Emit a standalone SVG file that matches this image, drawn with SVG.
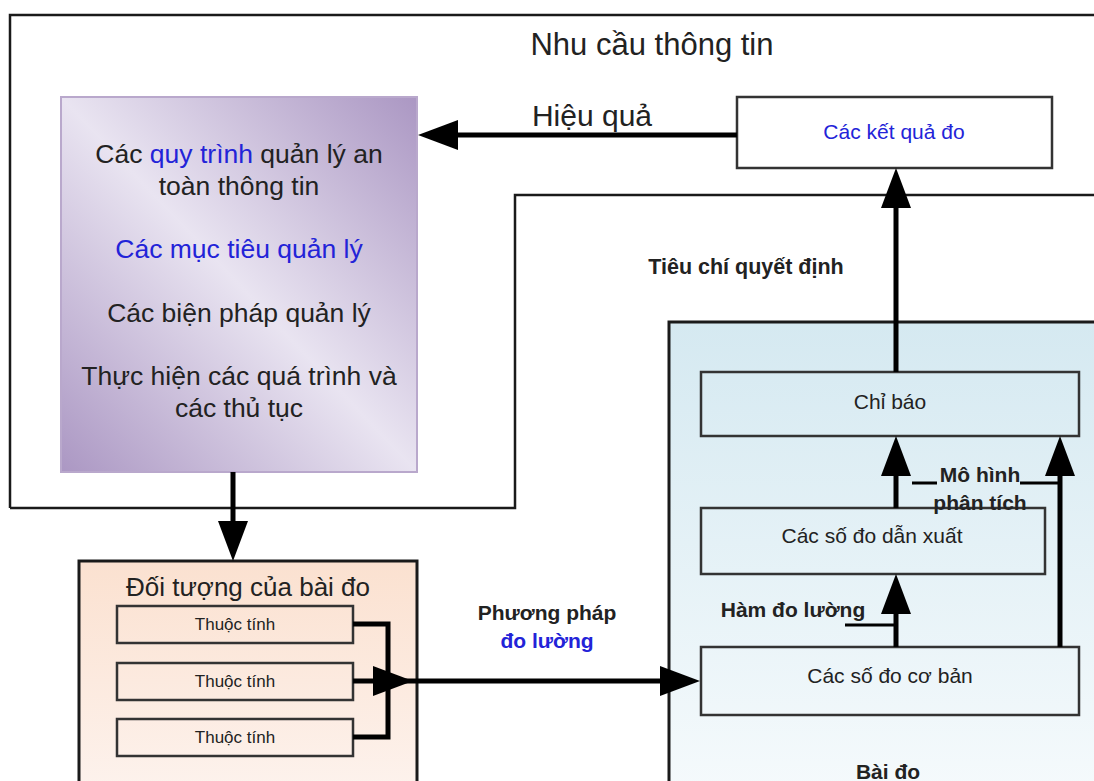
<svg xmlns="http://www.w3.org/2000/svg" width="1094" height="781" viewBox="0 0 1094 781">
<defs>
<linearGradient id="gPurple" x1="1" y1="0" x2="0" y2="1">
<stop offset="0" stop-color="#ab97c3"/>
<stop offset="0.5" stop-color="#e9e4f1"/>
<stop offset="1" stop-color="#ab97c3"/>
</linearGradient>
<linearGradient id="gBlue" x1="0" y1="0" x2="0" y2="1">
<stop offset="0" stop-color="#d5e9f1"/>
<stop offset="1" stop-color="#f5fafc"/>
</linearGradient>
<linearGradient id="gPeach" x1="0" y1="0" x2="0" y2="1">
<stop offset="0" stop-color="#fbe1d0"/>
<stop offset="1" stop-color="#fdf3ee"/>
</linearGradient>
<marker id="ah" viewBox="0 0 40 30" refX="0" refY="15" markerWidth="40" markerHeight="30" markerUnits="userSpaceOnUse" orient="auto">
<path d="M0,0 L40,15 L0,30 z" fill="#000"/>
</marker>
<style>
.t{font-family:"Liberation Sans",Arial,sans-serif;fill:#222;text-anchor:middle}
.b{font-weight:bold}
.blue{fill:#2323d8}
.box{fill:none;stroke:#333;stroke-width:2.5}
.frame{fill:none;stroke:#1a1a1a;stroke-width:2.5}
.con{fill:none;stroke:#000;stroke-width:5}
.lead{fill:none;stroke:#000;stroke-width:3}
</style>
</defs>
<rect width="1094" height="781" fill="#fff"/>

<g id="frame">
<path class="frame" d="M10,508 V15 H1100"/>
<path class="frame" d="M10,508 H515 V195 H1100"/>
<text class="t" x="652" y="55" font-size="31">Nhu cầu thông tin</text>
</g>

<g id="purple">
<rect x="61" y="97" width="356" height="375" fill="url(#gPurple)" stroke="#b9a8cc" stroke-width="2"/>
<text class="t" x="239" y="163" font-size="26.5">Các <tspan class="blue">quy trình</tspan> quản lý an</text>
<text class="t" x="239" y="195" font-size="26.5">toàn thông tin</text>
<text class="t blue" x="239" y="258" font-size="26.5">Các mục tiêu quản lý</text>
<text class="t" x="239" y="322" font-size="26.5">Các biện pháp quản lý</text>
<text class="t" x="239" y="385" font-size="26.5">Thực hiện các quá trình và</text>
<text class="t" x="239" y="417" font-size="26.5">các thủ tục</text>
</g>

<g id="ketqua">
<rect class="box" x="737" y="97" width="315" height="71" fill="#fff"/>
<text class="t blue" x="894" y="139" font-size="21">Các kết quả đo</text>
</g>

<g id="baido">
<rect x="669" y="322" width="440" height="470" fill="url(#gBlue)" stroke="#1a1a1a" stroke-width="3"/>
<text class="t b" x="888" y="779" font-size="21">Bài đo</text>
</g>

<g id="chibao">
<rect class="box" x="701" y="372" width="378" height="64" fill="none"/>
<text class="t" x="890" y="409" font-size="21">Chỉ báo</text>
</g>

<g id="danxuat">
<rect class="box" x="701" y="508" width="344" height="66"/>
<text class="t" x="872" y="543" font-size="21">Các số đo dẫn xuất</text>
</g>

<g id="coban">
<rect class="box" x="701" y="647" width="378" height="68"/>
<text class="t" x="890" y="683" font-size="21">Các số đo cơ bản</text>
</g>

<g id="doituong">
<rect x="79" y="561" width="338" height="240" fill="url(#gPeach)" stroke="#1a1a1a" stroke-width="3"/>
<text class="t" x="248" y="596" font-size="26">Đối tượng của bài đo</text>
</g>
<g id="thuoctinh1">
<rect class="box" x="117" y="606" width="236" height="37"/>
<text class="t" x="235" y="630" font-size="17">Thuộc tính</text>
</g>
<g id="thuoctinh2">
<rect class="box" x="117" y="663" width="236" height="37"/>
<text class="t" x="235" y="687" font-size="17">Thuộc tính</text>
</g>
<g id="thuoctinh3">
<rect class="box" x="117" y="719" width="236" height="37"/>
<text class="t" x="235" y="743" font-size="17">Thuộc tính</text>
</g>

<g id="connectors">
<line class="con" x1="737" y1="135" x2="458" y2="135" marker-end="url(#ah)"/>
<line class="con" x1="233" y1="472" x2="233" y2="521" marker-end="url(#ah)"/>
<path class="con" d="M353,624 H388 V737 H353"/>
<line class="con" x1="353" y1="681" x2="373" y2="681" marker-end="url(#ah)"/>
<line class="con" x1="388" y1="681" x2="660" y2="681" marker-end="url(#ah)"/>
<line class="con" x1="896" y1="372" x2="896" y2="208" marker-end="url(#ah)"/>
<line class="con" x1="896" y1="508" x2="896" y2="476" marker-end="url(#ah)"/>
<line class="con" x1="896" y1="647" x2="896" y2="614" marker-end="url(#ah)"/>
<line class="con" x1="1060" y1="647" x2="1060" y2="476" marker-end="url(#ah)"/>
<line class="lead" x1="912" y1="483" x2="937" y2="483"/>
<line class="lead" x1="1020" y1="483" x2="1058" y2="483"/>
<line class="lead" x1="845" y1="625" x2="894" y2="625"/>
<text class="t" x="592" y="126" font-size="30">Hiệu quả</text>
<text class="t b" x="746" y="274" font-size="21.5">Tiêu chí quyết định</text>
<text class="t b" x="980" y="482" font-size="21">Mô hình</text>
<text class="t b" x="980" y="510" font-size="21">phân tích</text>
<text class="t b" x="793" y="617" font-size="21">Hàm đo lường</text>
<text class="t b" x="547" y="620" font-size="21">Phương pháp</text>
<text class="t b blue" x="547" y="648" font-size="21">đo lường</text>
</g>
</svg>
